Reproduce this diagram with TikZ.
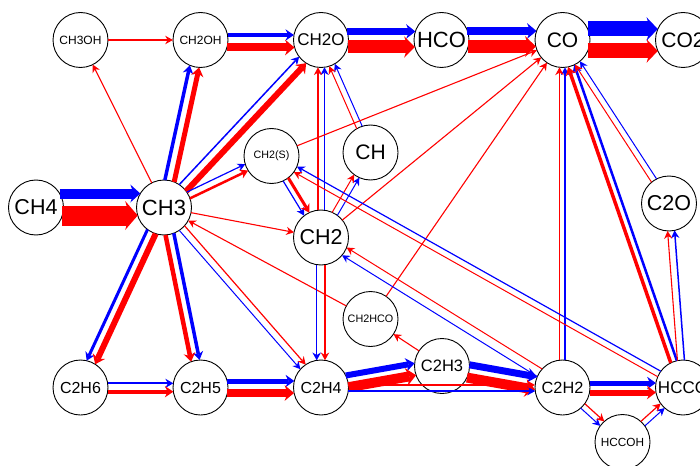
\documentclass[tikz,border=0pt]{standalone}
\usepackage{fontspec}
\setmainfont{Liberation Sans}
\usetikzlibrary{arrows.meta,calc}
\newcommand\flx[5]{%
  \pgfmathsetmacro\shA{sqrt(max(27.5*27.5-(#5)*(#5),1))}%
  \pgfmathsetmacro\tipL{7.5+0.25*#4}%
  \pgfmathsetmacro\tipW{7+1.1*#4}%
  \draw[#3, line width=#4pt, shorten <=\shA pt, shorten >=\shA pt,
    -{Stealth[length=\tipL pt, width=\tipW pt, line width=0pt]}]
    ($(#1.center)!#5pt!90:(#2.center)$) -- ($(#2.center)!#5pt!-90:(#1.center)$);}
\newcommand\prx[6]{\flx{#1}{#2}{blue}{#3}{#4}\flx{#1}{#2}{red}{#5}{#6}}
\tikzset{
  sp/.style={circle, draw=black, line width=0.9pt, minimum size=55pt, inner sep=0pt},
  fs/.style={font=\fontsize{#1}{#1}\selectfont}
}
\begin{document}
\begin{tikzpicture}[x=1pt,y=-1pt]
\useasboundingbox (0,0) rectangle (700,465);
% nodes
\node[sp,fs=12]   (CH3OH)  at (80.5,40)   {CH3OH};
\node[sp,fs=12]   (CH2OH)  at (200.5,40)  {CH2OH};
\node[sp,fs=17]   (CH2O)   at (321,40)    {CH2O};
\node[sp,fs=22]   (HCO)    at (441.5,40)  {HCO};
\node[sp,fs=21]   (CO)     at (562.5,40)  {CO};
\node[sp,fs=21]   (CO2)    at (683,40)    {CO2};
\node[sp,fs=21.5] (CH4)    at (36,207.5)  {CH4};
\node[sp,fs=22]   (CH3)    at (164,207.5) {CH3};
\node[sp,fs=10.7] (CH2S)   at (271.5,156) {CH2(S)};
\node[sp,fs=21]   (CH)     at (370.5,152.5) {CH};
\node[sp,fs=21.5] (CH2)    at (321,237.5) {CH2};
\node[sp,fs=21.5] (C2O)    at (669,203.5) {C2O};
\node[sp,fs=10.8] (CH2HCO) at (370.5,319) {CH2HCO};
\node[sp,fs=16.5] (C2H3)   at (442,366)   {C2H3};
\node[sp,fs=16]   (C2H6)   at (80.5,387.5) {C2H6};
\node[sp,fs=16]   (C2H5)   at (200.5,387.5) {C2H5};
\node[sp,fs=16]   (C2H4)   at (321,387.5) {C2H4};
\node[sp,fs=16.3] (C2H2)   at (562.5,387.5) {C2H2};
\node[sp,fs=17]   (HCCO)   at (683,387.5) {HCCO};
\node[sp,fs=11.8] (HCCOH)  at (622.5,442) {HCCOH};
% thick main fluxes
\prx{CH4}{CH3}{10}{14}{20}{-8}
\prx{CO}{CO2}{15}{11}{15}{-11}
\prx{CH2OH}{CH2O}{4}{5}{8}{-7.5}
\prx{CH2O}{HCO}{7}{8.5}{13}{-7}
\prx{HCO}{CO}{8}{9}{13}{-6.5}
\prx{C2H6}{C2H5}{2}{4.2}{4}{-4.2}
\prx{C2H5}{C2H4}{5}{6.5}{8}{-5.5}
\prx{C2H4}{C2H3}{6}{7.5}{10}{-4.5}
\prx{C2H3}{C2H2}{7}{6}{10}{-7}
\prx{C2H4}{C2H2}{1.5}{-3.5}{1.3}{2.5}
\prx{C2H2}{HCCO}{5}{4.5}{6}{-5}
% from CH3
\flx{CH3OH}{CH2OH}{red}{1.4}{0}
\flx{CH3}{CH3OH}{red}{1.1}{0}
\prx{CH3}{CH2OH}{3.5}{5}{5}{-4.5}
\prx{CH3}{CH2O}{1.5}{4.5}{6}{-5}
\prx{CH3}{CH2S}{1.2}{4}{2.5}{-3}
\flx{CH3}{CH2}{red}{1.1}{0}
\flx{CH2HCO}{CH3}{red}{1.1}{0}
\prx{CH3}{C2H6}{3}{-5.7}{6}{3.5}
\prx{CH3}{C2H5}{3.5}{4.5}{4.5}{-4}
\prx{CH3}{C2H4}{1}{-3.5}{1.2}{3.5}
% CH2 family
\prx{CH2S}{CH2}{1.2}{-3}{3}{3}
\prx{CH2}{CH2O}{1.3}{-3.5}{1.3}{3}
\prx{CH2}{C2H4}{1.5}{-4.3}{1.3}{4}
\prx{CH2}{CH}{1}{-3}{1}{3}
\prx{CH}{CH2O}{1}{-3}{1}{3}
\flx{CH2S}{CO}{red}{1.1}{0}
\flx{CH2}{CO}{red}{1.1}{0}
\flx{CH2HCO}{CO}{red}{1.1}{0}
\flx{C2H3}{CH2HCO}{red}{1.1}{0}
% right part
\prx{C2H2}{CO}{1.4}{-2.5}{1.4}{3}
\prx{HCCO}{CO}{2.5}{-3}{3.5}{3.5}
\prx{HCCO}{C2O}{1.5}{-3.5}{1.1}{3.5}
\prx{C2O}{CO}{1}{-3}{1}{3}
\prx{C2H2}{HCCOH}{1}{-3}{1.2}{3}
\prx{HCCOH}{HCCO}{1}{-3}{1.2}{3}
\prx{HCCO}{CH2S}{1.2}{-3.3}{1}{3}
\prx{C2H2}{CH2}{1}{4}{1}{-5}
\end{tikzpicture}
\end{document}
